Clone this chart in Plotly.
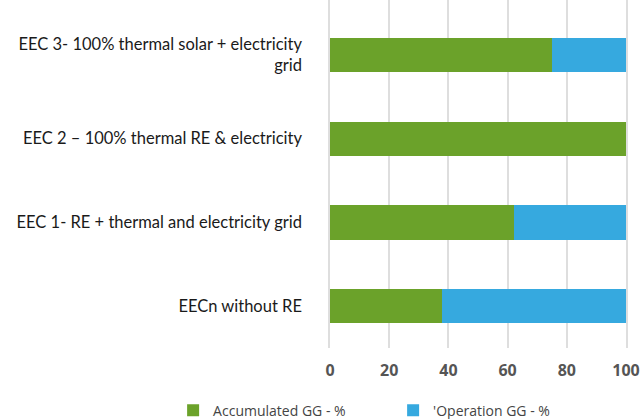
import plotly.graph_objects as go

categories = [
    "EECn without RE",
    "EEC 1- RE + thermal and electricity grid",
    "EEC 2 – 100% thermal RE & electricity",
    "EEC 3- 100% thermal solar + electricity<br>grid",
]
accumulated = [38, 62, 100, 75]
operation = [62, 38, 0, 25]
series_names = ["Accumulated GG - %", "'Operation GG - %"]
x_ticks = [0, 20, 40, 60, 80, 100]

green = "#6BA22A"
blue = "#36A9DF"
grid = "#DEDEDE"

fig = go.Figure()
fig.add_trace(go.Bar(y=list(range(len(categories))), x=accumulated, orientation="h",
                     name=series_names[0], marker=dict(color=green, line=dict(width=0)),
                     width=0.41))
fig.add_trace(go.Bar(y=list(range(len(categories))), x=operation, orientation="h",
                     name=series_names[1], marker=dict(color=blue, line=dict(width=0)),
                     width=0.41))

fig.update_layout(
    barmode="stack",
    width=642, height=419,
    margin=dict(l=330, r=16, t=0, b=71, autoexpand=False),
    plot_bgcolor="white", paper_bgcolor="white",
    font=dict(family="Lato", color="#222"),
    showlegend=True,
    legend=dict(orientation="h", traceorder="normal", x=-0.530, xanchor="left",
                xref="paper", y=-0.18, yanchor="middle",
                font=dict(family="Open Sans", size=14, color="#444"),
                entrywidth=175, entrywidthmode="pixels", itemwidth=30),
    xaxis=dict(range=[0, 100], tickvals=x_ticks, ticktext=[str(v) for v in x_ticks],
               showgrid=True, gridcolor=grid, gridwidth=1.5, zeroline=False,
               showline=False, ticks="", ticklabelstandoff=11,
               tickfont=dict(family="Open Sans", size=16, color="#555", weight="bold")),
    yaxis=dict(range=[-0.5, 3.657], tickvals=list(range(len(categories))), ticktext=categories,
               showgrid=False, zeroline=False, showline=True, mirror=True,
               linecolor=grid, linewidth=1.5, ticks="",
               ticklabelstandoff=23,
               tickfont=dict(family="Lato", size=16.5, color="#1a1a1a")),
)

fig.write_html("out.html")
